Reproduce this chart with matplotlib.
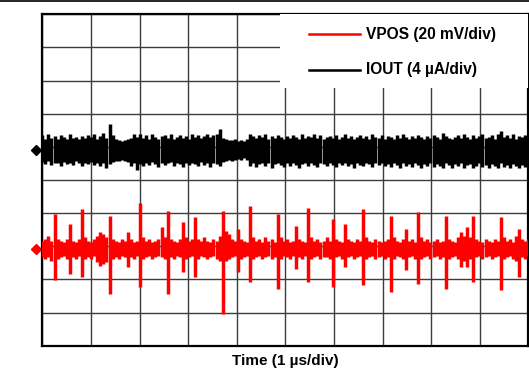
"""Scope capture: VPOS ripple and IOUT noise, 1 us/div."""
import numpy as np
import matplotlib
matplotlib.use('Agg')
from matplotlib import pyplot as plt
from matplotlib.lines import Line2D
from matplotlib.patches import Rectangle

plt.rcParams['font.family'] = ['Liberation Sans', 'DejaVu Sans']

# channel settings (scale per division, ground marker position in divisions)
vpos_scale = 20.0   # mV/div
iout_scale = 4.0    # uA/div
vpos_zero = 2.92
iout_zero = 5.90

labels = ['VPOS (20 mV/div)', 'IOUT (4 \u00b5A/div)']
xlabel = 'Time (1 \u00b5s/div)'

# peak-detect envelope, 160 samples across 10 div
iout_hi = [
    1.8, 1.4, 1.9, 1.5, 1.7, 1.3, 1.8, 1.6, 1.4, 1.9, 1.5, 1.6, 1.3, 1.7, 1.5, 1.8,
    1.6, 1.9, 1.4, 1.7, 2.1, 1.5, 3.1, 1.8, 1.3, 1.2, 1.1, 1.2, 1.3, 1.5, 1.9, 1.6,
    2.0, 1.5, 1.8, 1.4, 1.9, 1.6, 1.3, 1.7, 1.8, 1.5, 1.9, 1.4, 1.6, 1.8, 1.5, 1.7,
    1.4, 1.9, 1.6, 1.8, 1.5, 1.7, 1.9, 1.6, 1.8, 2.0, 2.6, 1.5, 1.3, 1.2, 1.2, 1.3,
    1.1, 1.2, 1.1, 1.3, 1.9, 1.7, 1.5, 1.8, 1.6, 1.9, 1.4, 1.7, 1.5, 1.8, 1.6, 1.4,
    1.7, 1.5, 1.8, 1.6, 1.4, 1.9, 1.5, 1.7, 1.6, 2.0, 1.5, 1.8, 1.4, 1.6, 1.7, 1.5,
    1.8, 1.4, 1.6, 1.9, 1.5, 1.7, 1.3, 1.6, 1.8, 1.5, 1.7, 1.4, 1.9, 1.6, 1.5, 1.8,
    1.4, 1.7, 1.6, 1.3, 1.8, 1.5, 1.9, 1.6, 1.4, 1.7, 1.5, 1.8, 1.6, 1.4, 1.7, 1.5,
    1.8, 1.6, 1.4, 2.1, 1.7, 1.5, 1.3, 1.6, 1.8, 1.5, 1.9, 1.6, 1.4, 1.8, 1.5, 1.7,
    1.9, 1.5, 1.6, 1.8, 1.4, 2.0, 2.3, 1.6, 1.8, 1.5, 1.9, 1.4, 1.7, 1.6, 1.8, 1.5,
]
iout_lo = [
    -1.4, -1.7, -1.3, -1.8, -1.5, -1.6, -1.9, -1.4, -1.7, -1.5, -1.8, -1.3, -1.6, -1.9, -1.5, -1.7,
    -1.4, -1.8, -1.6, -1.9, -1.5, -2.2, -1.7, -1.4, -1.3, -1.3, -1.2, -1.3, -1.4, -1.9, -1.6, -2.4,
    -1.7, -1.9, -1.5, -1.8, -1.4, -1.7, -2.0, -1.5, -1.8, -1.6, -1.4, -1.9, -1.5, -1.7, -2.0, -1.6,
    -1.8, -1.5, -1.7, -1.9, -1.4, -1.8, -1.6, -2.0, -1.5, -1.7, -1.9, -1.4, -1.3, -1.2, -1.3, -1.2,
    -1.1, -1.2, -1.0, -1.2, -1.9, -1.6, -2.0, -1.7, -1.5, -1.9, -1.6, -2.1, -1.7, -1.5, -1.8, -2.0,
    -1.6, -1.9, -1.5, -1.8, -2.1, -1.7, -1.5, -1.9, -1.6, -1.8, -2.0, -1.5, -1.7, -1.9, -1.6, -1.8,
    -2.0, -1.6, -1.8, -1.5, -1.9, -1.7, -2.1, -1.6, -1.8, -1.9, -1.5, -1.7, -2.0, -1.6, -1.8, -1.5,
    -1.9, -1.7, -2.0, -1.6, -1.8, -2.1, -1.5, -1.9, -1.7, -2.0, -1.6, -1.8, -2.1, -1.7, -1.9, -1.6,
    -2.0, -1.7, -1.9, -2.2, -1.6, -1.8, -2.1, -1.7, -1.9, -1.6, -2.2, -1.8, -1.7, -2.1, -1.9, -1.6,
    -2.0, -1.8, -2.2, -1.7, -1.9, -2.1, -1.6, -2.0, -1.8, -2.2, -1.7, -1.9, -2.1, -1.8, -2.0, -1.7,
]
vpos_hi = [
    5, 6, 8, 5, 21, 6, 5, 4, 6, 15, 5, 4, 6, 24, 7, 5,
    4, 6, 8, 10, 9, 7, 20, 6, 5, 4, 6, 5, 10, 6, 4, 5,
    28, 7, 5, 6, 4, 5, 6, 13, 7, 23, 6, 5, 4, 6, 16, 7,
    5, 6, 19, 6, 5, 7, 5, 4, 6, 5, 8, 23, 11, 9, 6, 5,
    12, 6, 5, 4, 26, 7, 5, 6, 4, 7, 5, 6, 4, 21, 7, 5,
    6, 4, 5, 14, 6, 5, 4, 25, 7, 5, 6, 4, 5, 7, 5, 18,
    6, 5, 4, 15, 6, 5, 4, 6, 5, 24, 7, 5, 4, 6, 5, 4,
    5, 6, 20, 7, 5, 4, 6, 12, 5, 6, 4, 22, 7, 5, 6, 4,
    5, 6, 4, 5, 20, 6, 5, 4, 7, 10, 8, 13, 7, 20, 6, 5,
    4, 6, 5, 4, 6, 5, 19, 7, 5, 6, 4, 8, 12, 6, 5, 6,
]
vpos_lo = [
    -5, -6, -5, -7, -19, -6, -5, -4, -6, -15, -5, -6, -4, -17, -6, -5,
    -6, -4, -8, -10, -9, -8, -27, -6, -5, -6, -4, -5, -11, -5, -6, -4,
    -23, -6, -5, -4, -6, -5, -4, -5, -6, -27, -5, -6, -4, -5, -14, -6,
    -5, -4, -17, -6, -4, -5, -6, -5, -4, -6, -7, -39, -7, -6, -5, -4,
    -14, -6, -5, -4, -20, -6, -5, -4, -6, -5, -4, -6, -5, -24, -6, -4,
    -5, -6, -4, -12, -5, -6, -4, -20, -6, -5, -4, -6, -5, -5, -6, -23,
    -5, -4, -6, -11, -5, -4, -6, -5, -4, -22, -6, -5, -4, -6, -5, -4,
    -6, -5, -26, -6, -4, -5, -6, -13, -5, -4, -6, -21, -6, -5, -4, -6,
    -5, -4, -6, -5, -24, -6, -5, -4, -6, -11, -7, -11, -6, -20, -5, -4,
    -6, -5, -4, -6, -5, -4, -25, -6, -5, -4, -6, -7, -17, -5, -6, -4,
]

t = np.linspace(0, 10, len(iout_hi))

W, H = 529, 368
fig = plt.figure(figsize=(W / 100, H / 100), dpi=100)
ax = fig.add_axes([42.3 / W, 22.3 / H, 486 / W, 331.4 / H])

# traces
ax.vlines(t, iout_zero + np.array(iout_lo) / iout_scale,
          iout_zero + np.array(iout_hi) / iout_scale,
          color='black', lw=2.5, zorder=3)
ax.vlines(t, vpos_zero + np.array(vpos_lo) / vpos_scale,
          vpos_zero + np.array(vpos_hi) / vpos_scale,
          color='#ff0000', lw=2.5, zorder=3)

# ground markers
ax.plot([-0.13], [iout_zero], 'D', color='black', ms=5.5, clip_on=False)
ax.plot([-0.13], [vpos_zero], 'D', color='#ff0000', ms=5.5, clip_on=False)

ax.set_xlim(0, 10)
ax.set_ylim(0, 10)
ax.set_xticks(np.arange(11))
ax.set_yticks(np.arange(11))
ax.tick_params(length=0, labelbottom=False, labelleft=False)
ax.grid(True, color='#3c3c3c', lw=1.0, zorder=1)
ax.set_axisbelow(True)
for side in ax.spines:
    ax.spines[side].set_linewidth(1.6)
ax.set_xlabel(xlabel, fontsize=11, fontweight='bold', labelpad=6)

# legend drawn by hand on a white patch
ax.add_patch(Rectangle((4.89, 7.78), 5.2, 2.3, facecolor='white',
                       edgecolor='none', zorder=4))
for y, c, lab in zip([9.405, 8.32], ['#ff0000', 'black'], labels):
    ax.plot([5.488, 6.537], [y, y], color=c, lw=1.8, zorder=5)
    ax.text(6.654, y, lab, fontsize=11.2, fontweight='bold', va='center',
            ha='left', zorder=5)

fig.add_artist(Line2D([0, 1], [1 - 0.6 / H, 1 - 0.6 / H], color='black',
                      lw=1.2))

fig.savefig('out.png', dpi=100)
